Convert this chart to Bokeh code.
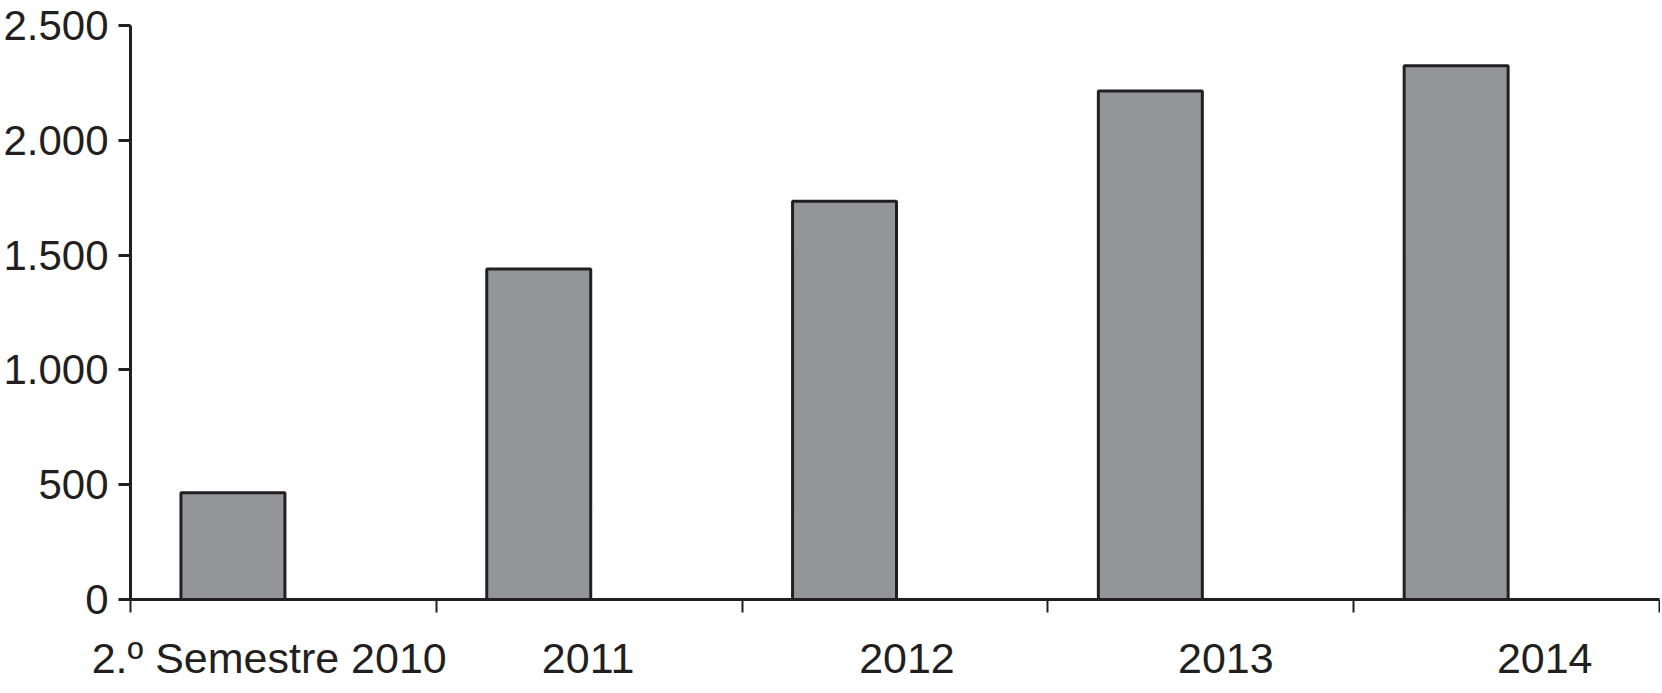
from bokeh.plotting import figure
from bokeh.models import ColumnDataSource, FixedTicker, Range1d, LinearAxis
from bokeh.embed import file_html
from bokeh.resources import INLINE

categories = ["2.º Semestre 2010", "2011", "2012", "2013", "2014"]
values = [465, 1440, 1735, 2215, 2325]
y_ticks = [0, 500, 1000, 1500, 2000, 2500]
y_tick_labels = ["0", "500", "1.000", "1.500", "2.000", "2.500"]

n = len(categories)
bar_offset = 0.335
bar_width = 0.34
xs = [i + bar_offset for i in range(n)]
src = ColumnDataSource(dict(x=xs, top=values))

dark = "#231f20"
font = "Liberation Sans"

p = figure(width=1660, height=684, output_backend="svg", toolbar_location=None,
           x_range=Range1d(0, n), y_range=Range1d(0, 2500), x_axis_location=None,
           min_border_left=128, min_border_right=1, min_border_top=25, min_border_bottom=83)
p.outline_line_color = None
p.xgrid.visible = False
p.ygrid.visible = False
p.background_fill_color = "white"

# label scale: the reference spreads its category labels slightly wider than the bars
lab_start, lab_end = 0.065, 4.86
p.extra_x_ranges = {"labels": Range1d(lab_start, lab_end)}
# category boundaries expressed in the label scale
boundaries = [lab_start + k * (lab_end - lab_start) / n for k in range(n + 1)]

p.vbar(x="x", top="top", bottom=0, width=bar_width, source=src,
       fill_color="#939598", line_color=dark, line_width=3)

xa = LinearAxis(x_range_name="labels",
                ticker=FixedTicker(ticks=[i + 0.5 for i in range(n)], minor_ticks=boundaries))
xa.major_label_overrides = {i + 0.5: c for i, c in enumerate(categories)}
xa.axis_line_color = dark
xa.axis_line_width = 3
xa.major_tick_line_color = None
xa.major_tick_out = 13
xa.major_tick_in = 0
xa.minor_tick_out = 13
xa.minor_tick_in = 0
xa.minor_tick_line_color = dark
xa.minor_tick_line_width = 2
xa.major_label_text_font = font
xa.major_label_text_font_size = "43px"
xa.major_label_text_color = dark
xa.major_label_standoff = 21
p.add_layout(xa, "below")

ya = p.yaxis[0]
ya.ticker = FixedTicker(ticks=y_ticks, minor_ticks=[])
ya.major_label_overrides = {t: l for t, l in zip(y_ticks, y_tick_labels)}
ya.major_tick_out = 12
ya.major_tick_in = 0
ya.major_tick_line_color = dark
ya.major_tick_line_width = 3
ya.axis_line_color = dark
ya.axis_line_width = 3
ya.major_label_text_font = font
ya.major_label_text_font_size = "42px"
ya.major_label_text_color = dark
ya.major_label_standoff = 10

open("out.html", "w").write(file_html(p, INLINE))
